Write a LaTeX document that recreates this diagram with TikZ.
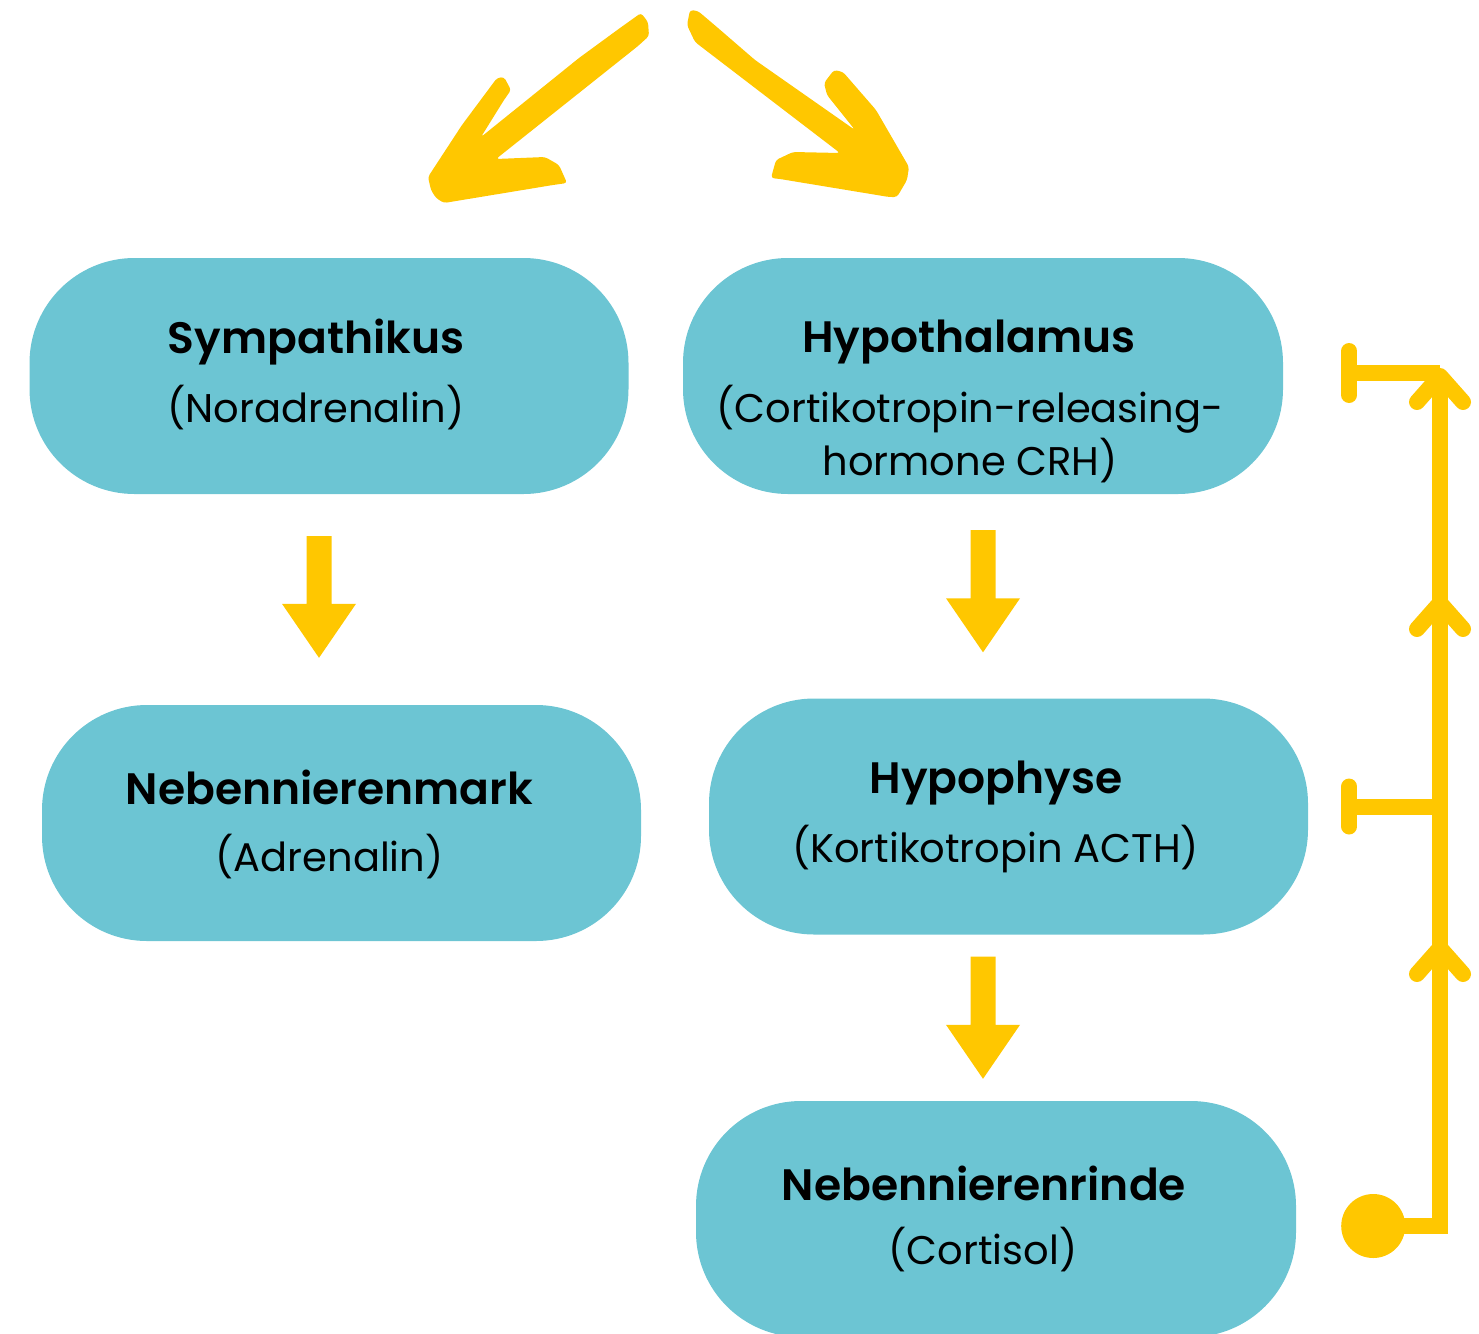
\documentclass[tikz,border=0pt]{standalone}
\usepackage{fontspec}
\setmainfont{Poppins}[BoldFont={Poppins SemiBold}]
\usetikzlibrary{calc}
\definecolor{tealbox}{HTML}{6CC5D3}
\definecolor{yel}{HTML}{FFC700}
\newcommand{\blockarr}[2]{%
  \fill[yel] let \p1=(#1), \p2=(#2) in
    (\x1-12.5pt,\y1) -- (\x1+12.5pt,\y1) -- (\x1+12.5pt,\y2+54pt) -- (\x1+37pt,\y2+54pt)
    -- (\x1,\y2) -- (\x1-37pt,\y2+54pt) -- (\x1-12.5pt,\y2+54pt) -- cycle;}
\begin{document}
\begin{tikzpicture}[x=1pt,y=-1pt,
  box/.style={fill=tealbox, draw=none, rounded corners=105pt, minimum width=599pt, minimum height=236pt, inner sep=0pt},
  ttl/.style={font=\fontsize{44}{53}\selectfont\bfseries, inner sep=0pt, text=black},
  sub/.style={font=\fontsize{40}{53}\selectfont, inner sep=0pt, align=center, text=black},
  fb/.style={draw=yel, line width=16pt},
  chev/.style={draw=yel, line width=16pt, line cap=round, line join=round},
  hand/.style={fill=yel, rounded corners=3pt}]
\useasboundingbox (0,0) rectangle (1479,1333);

% boxes
\node[box] (symp) at (329,376) {};
\node[box, minimum width=600pt] (hypo) at (983,376) {};
\node[box] (nnm) at (341.5,823) {};
\node[box] (hyph) at (1008.5,816.5) {};
\node[box, minimum width=600pt] (nnr) at (996,1219) {};

% texts
\node[ttl] (symp-t) at (316,342) {Sympathikus};
\node[sub] (symp-s) at (316,408) {(Noradrenalin)};
\node[ttl] (hypo-t) at (969,342) {Hypothalamus};
\node[sub] (hypo-s) at (970,434.5) {(Cortikotropin-releasing-\\hormone CRH)};
\node[ttl] (nnm-t) at (329.5,787) {Nebennierenmark};
\node[sub] (nnm-s) at (329.5,857) {(Adrenalin)};
\node[ttl] (hyph-t) at (996,783) {Hypophyse};
\node[sub] (hyph-s) at (995.5,849) {(Kortikotropin ACTH)};
\node[ttl] (nnr-t) at (984,1183) {Nebennierenrinde};
\node[sub] (nnr-s) at (983,1250) {(Cortisol)};

% block arrows
\coordinate (a1s) at ($(symp.south)+(-10,42)$);
\coordinate (a1e) at ($(nnm.north)+(-22.5,-47)$);
\coordinate (a2s) at ($(hypo.south)+(0,36)$);
\coordinate (a2e) at ($(hyph.north)+(-25.5,-46)$);
\coordinate (a3s) at ($(hyph.south)+(-25.5,22)$);
\coordinate (a3e) at ($(nnr.north)+(-13,-22)$);
\blockarr{a1s}{a1e}
\blockarr{a2s}{a2e}
\blockarr{a3s}{a3e}

% feedback loop
\coordinate (fbdot) at ($(nnr.east)+(77,7)$);
\coordinate (fbtop) at (1440,376);
\coordinate (t1) at ($(hypo.east)+(66,-3)$);
\coordinate (t2) at ($(hyph.east)+(41,-10)$);
\draw[fb, line join=miter] (fbdot) -| (fbtop);
\fill[yel] (fbdot) circle (32pt);
\draw[fb] (t1) -- (t1 -| fbtop);
\draw[fb, line cap=round] ($(t1)+(0,-22)$) -- ($(t1)+(0,22)$);
\draw[fb] (t2) -- (t2 -| fbtop);
\draw[fb, line cap=round] ($(t2)+(0,-20)$) -- ($(t2)+(0,20)$);
\foreach \ya in {376,603,948}{
  \draw[chev] (1417,\ya+26) -- (1440,\ya) -- (1463,\ya+26);
}

% hand-drawn arrows at top
\fill[hand] (641,13) -- (648,22) -- (649,36) -- (638,46) -- (496,159) -- (545,157) -- (559,165)
  -- (567,183) -- (553,185) -- (444,203) -- (436,198) -- (431,190) -- (428,177) -- (462,125)
  -- (497,78) -- (504,77) -- (511,90) -- (504,100) -- (481,137) -- (579,58) -- (620,28) -- cycle;
\fill[hand] (690,10) -- (698,11) -- (718,28) -- (755,60) -- (855,130) -- (827,95) -- (824,83)
  -- (834,70) -- (843,72) -- (876,110) -- (909,167) -- (907,180) -- (897,197) -- (889,197)
  -- (780,179) -- (771,178) -- (776,160) -- (793,152) -- (840,153) -- (695,42) -- (687,25) -- cycle;
\end{tikzpicture}
\end{document}
